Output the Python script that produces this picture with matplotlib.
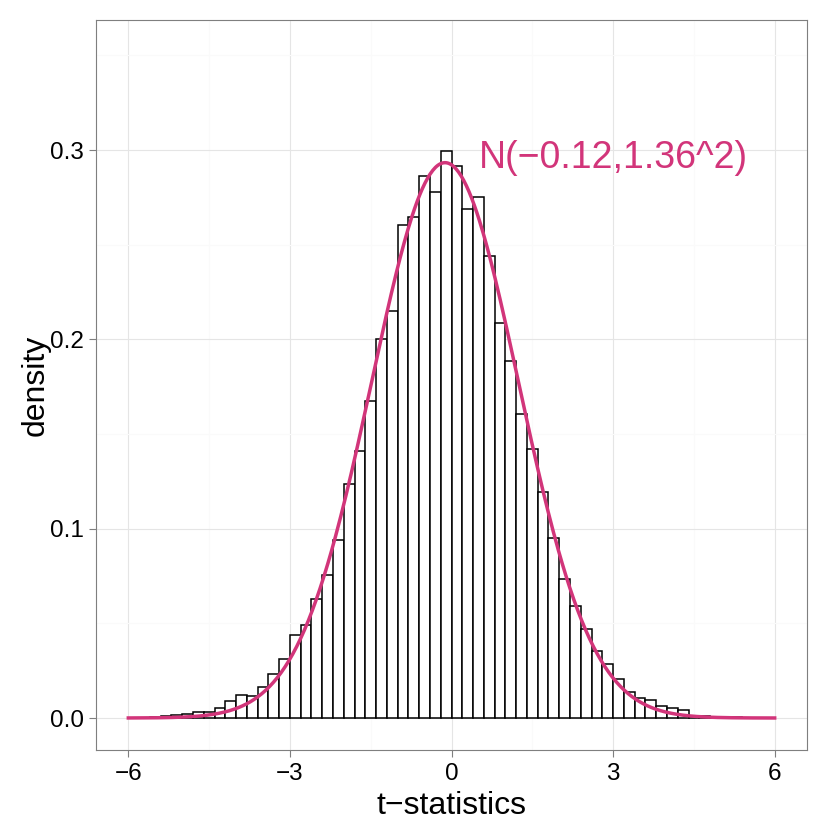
import numpy as np
import matplotlib
matplotlib.use("Agg")
import matplotlib.pyplot as plt
from matplotlib.ticker import MultipleLocator

plt.rcParams["font.family"] = ["Liberation Sans", "DejaVu Sans"]

# histogram of t-statistics, bins of 0.2 from -6 to 6 (density)
bin_width = 0.2
bin_left = np.round(np.arange(-6.0, 6.0, bin_width), 2)
density = [
    0.0, 0.0, 0.0003, 0.0008, 0.0014, 0.0020, 0.0034, 0.0030, 0.0053, 0.0088,
    0.0120, 0.0114, 0.0165, 0.0234, 0.0310, 0.0437, 0.0490, 0.0628, 0.0755, 0.0938,
    0.1238, 0.1410, 0.1676, 0.2004, 0.2148, 0.2604, 0.2645, 0.2864, 0.2780, 0.2997,
    0.2917, 0.2687, 0.2754, 0.2440, 0.2087, 0.1887, 0.1604, 0.1423, 0.1195, 0.0949,
    0.0732, 0.0592, 0.0468, 0.0354, 0.0287, 0.0208, 0.0139, 0.0107, 0.0097, 0.0063,
    0.0051, 0.0044, 0.0010, 0.0008, 0.0005, 0.0003, 0.0006, 0.0001, 0.0, 0.0,
]

# fitted normal
fit_mean = -0.12
fit_sd = 1.36
fit_label = "N(\u22120.12,1.36^2)"

pink = "#D2357A"

fig = plt.figure(figsize=(8.3, 8.3), dpi=100)
ax = fig.add_axes([96 / 830, 1 - 750 / 830, (807 - 96) / 830, (750 - 20) / 830])

ax.bar(bin_left, density, width=bin_width, align="edge",
       facecolor="white", edgecolor="black", linewidth=1.1, zorder=3)

xs = np.linspace(-6, 6, 500)
ys = np.exp(-0.5 * ((xs - fit_mean) / fit_sd) ** 2) / (fit_sd * np.sqrt(2 * np.pi))
ax.plot(xs, ys, color=pink, lw=2.5, zorder=4)

ax.text(3.0, 0.2905, fit_label, color=pink, fontsize=27, ha="center", va="baseline", zorder=5)

ax.set_xlim(-6.6, 6.6)
ax.set_ylim(-0.0169, 0.3687)
ax.set_xticks([-6, -3, 0, 3, 6])
ax.set_yticks([0.0, 0.1, 0.2, 0.3])
ax.xaxis.set_minor_locator(MultipleLocator(1.5))
ax.yaxis.set_minor_locator(MultipleLocator(0.05))
ax.set_yticklabels(["0.0", "0.1", "0.2", "0.3"])
ax.set_xticklabels(["\u22126", "\u22123", "0", "3", "6"])

ax.grid(True, which="major", color="#E5E5E5", lw=0.8, zorder=0)
ax.grid(True, which="minor", color="#FAFAFA", lw=0.8, zorder=0)
ax.set_axisbelow(True)
for s in ax.spines.values():
    s.set_color("#7F7F7F")
    s.set_linewidth(0.8)

ax.tick_params(which="major", length=5, width=0.8, color="#7F7F7F",
               labelsize=17.5, labelcolor="black", pad=4)
ax.tick_params(which="minor", length=0)

ax.set_xlabel("t\u2212statistics", fontsize=23)
ax.set_ylabel("density", fontsize=23)
ax.xaxis.set_label_coords(0.5, -0.056)
ax.yaxis.set_label_coords(-0.0633, 0.5)

fig.savefig("out.png", dpi=100, facecolor="white")
